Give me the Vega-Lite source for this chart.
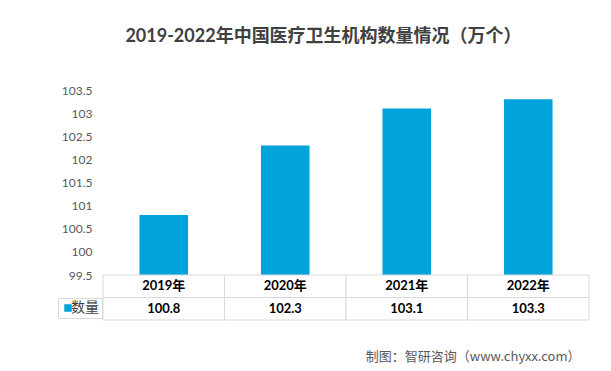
{
  "$schema": "https://vega.github.io/schema/vega-lite/v6.json",
  "padding": {"left": 57, "top": 28, "right": 23, "bottom": 5},
  "background": "white",
  "title": {
    "text": "2019-2022年中国医疗卫生机构数量情况（万个）",
    "font": "Lato, Noto Sans CJK SC",
    "fontSize": 18,
    "fontWeight": "bold",
    "color": "#404040",
    "anchor": "middle",
    "offset": 38
  },
  "data": {
    "values": [
      {"年份": "2019年", "数量": 100.8, "指标": "数量"},
      {"年份": "2020年", "数量": 102.3, "指标": "数量"},
      {"年份": "2021年", "数量": 103.1, "指标": "数量"},
      {"年份": "2022年", "数量": 103.3, "指标": "数量"}
    ]
  },
  "spacing": 0,
  "bounds": "flush",
  "vconcat": [
    {
      "width": 486,
      "height": 185,
      "mark": {"type": "bar"},
      "encoding": {
        "x": {
          "field": "年份", "type": "nominal", "sort": null,
          "scale": {"paddingInner": 0.6, "paddingOuter": 0.3},
          "axis": null
        },
        "y": {
          "field": "数量", "type": "quantitative",
          "scale": {"domain": [99.5, 103.5], "zero": false, "nice": false},
          "axis": {
            "values": [99.5, 100, 100.5, 101, 101.5, 102, 102.5, 103, 103.5],
            "format": ".1~f",
            "title": null, "domain": false, "ticks": false, "grid": false,
            "labelFontSize": 12, "labelColor": "#595959", "labelPadding": 11,
            "labelFont": "Lato"
          }
        },
        "y2": {"datum": 99.5},
        "color": {
          "field": "指标", "type": "nominal",
          "scale": {"range": ["#00A3DA"]},
          "legend": {
            "orient": "none", "legendX": -45, "legendY": 208,
            "title": null, "symbolType": "square", "symbolSize": 56,
            "symbolStrokeWidth": 0,
            "labelFontSize": 14, "labelFont": "Noto Sans CJK SC", "labelColor": "#404040",
            "padding": 3, "labelOffset": -4
          }
        }
      }
    },
    {
      "width": 486,
      "height": 45,
      "encoding": {
        "x": {
          "field": "年份", "type": "nominal", "sort": null,
          "scale": {"paddingInner": 0, "paddingOuter": 0},
          "axis": {
            "orient": "bottom", "labels": false, "ticks": false, "domain": false,
            "title": "制图：智研咨询（www.chyxx.com）",
            "titleFontSize": 13, "titleFontWeight": "normal", "titleColor": "#595959",
            "titleFont": "Noto Sans CJK SC", "titleX": 477, "titleAlign": "right",
            "titlePadding": 30
          }
        }
      },
      "layer": [
        {
          "mark": {"type": "rect", "fill": "white", "stroke": "#d9d9d9", "strokeWidth": 1},
          "encoding": {
            "y": {
              "datum": "header", "type": "nominal",
              "scale": {"domain": ["header", "value"], "paddingInner": 0, "paddingOuter": 0},
              "axis": null
            }
          }
        },
        {
          "mark": {"type": "rect", "fill": "white", "stroke": "#d9d9d9", "strokeWidth": 1},
          "encoding": {"y": {"datum": "value", "type": "nominal"}}
        },
        {
          "mark": {"type": "text", "fontSize": 13, "fontWeight": "bold", "font": "Lato, Noto Sans CJK SC", "color": "#000000"},
          "encoding": {
            "y": {"datum": "header", "type": "nominal"},
            "text": {"field": "年份"}
          }
        },
        {
          "mark": {"type": "text", "fontSize": 13, "fontWeight": "bold", "font": "Lato, Noto Sans CJK SC", "color": "#000000"},
          "encoding": {
            "y": {"datum": "value", "type": "nominal"},
            "text": {"field": "数量", "type": "quantitative", "format": ".1f"}
          }
        }
      ]
    }
  ],
  "config": {
    "view": {"stroke": null},
    "legend": {"strokeColor": "#d9d9d9", "strokeWidth": 1}
  }
}
